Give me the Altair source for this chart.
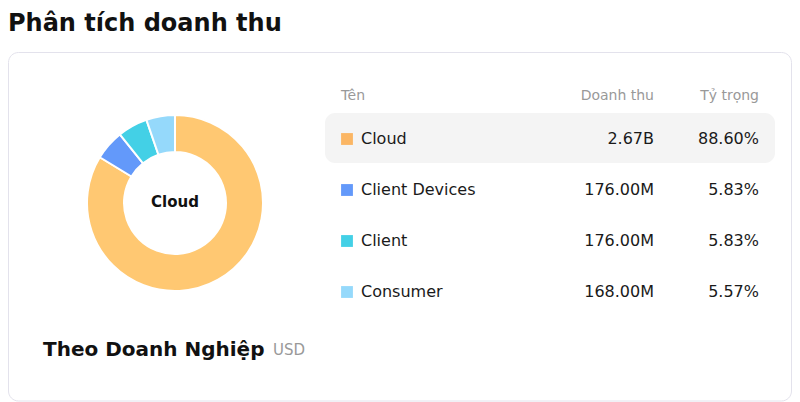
import altair as alt
import pandas as pd

# ---- data ----
names = ["Cloud", "Client Devices", "Client", "Consumer"]
revenue_m = [2670, 176, 176, 168]            # millions USD (used for donut angles)
revenue_label = ["2.67B", "176.00M", "176.00M", "168.00M"]
share_label = ["88.60%", "5.83%", "5.83%", "5.57%"]
pie_colors = ["#FFC872", "#6399FA", "#43D0E6", "#95D9FB"]
swatch_colors = ["#FBB664", "#6399FA", "#43D0E6", "#95D9FB"]
headers = ["Tên", "Doanh thu", "Tỷ trọng"]
title_text = "Phân tích doanh thu"
subtitle_text = "Theo Doanh Nghiệp"
unit_text = "USD"

FONT = "DejaVu Sans"

df = pd.DataFrame({
    "name": names,
    "revenue": revenue_m,
    "rev_label": revenue_label,
    "share_label": share_label,
    "idx": list(range(len(names))),
})
one = pd.DataFrame({"k": [0]})

row_y = alt.Y("name:N", scale=alt.Scale(type="point", domain=names, range=[131, 284], padding=0), axis=None)

card = alt.Chart(one).mark_rect(
    fill="white", stroke="#E3E2EC", strokeWidth=1, cornerRadius=10
).encode(x=alt.value(0.5), x2=alt.value(783.5), y=alt.value(44.5), y2=alt.value(393))

highlight = alt.Chart(one).mark_rect(fill="#F4F4F4", cornerRadius=10).encode(
    x=alt.value(317), x2=alt.value(767), y=alt.value(105), y2=alt.value(155)
)

donut = alt.Chart(df).mark_arc(
    radius=88, radius2=51, stroke="white", strokeWidth=2
).encode(
    theta=alt.Theta("revenue:Q", stack=True),
    order=alt.Order("idx:O"),
    color=alt.Color("name:N", scale=alt.Scale(domain=names, range=pie_colors), legend=None),
    x=alt.value(167), y=alt.value(195),
)

center_label = alt.Chart(df).transform_filter("datum.idx == 0").mark_text(
    font=FONT, fontSize=15, fontWeight="bold", color="#111111", align="center", baseline="middle"
).encode(text="name:N", x=alt.value(167), y=alt.value(194))

title = alt.Chart(one).mark_text(
    font=FONT, fontSize=24, fontWeight="bold", color="#111111", align="left", baseline="top"
).encode(text=alt.value(title_text), x=alt.value(0), y=alt.value(4))

subtitle = alt.Chart(one).mark_text(
    font=FONT, fontSize=20, fontWeight="bold", color="#111111", align="left", baseline="middle"
).encode(text=alt.value(subtitle_text), x=alt.value(35), y=alt.value(342))

unit = alt.Chart(one).mark_text(
    font=FONT, fontSize=15, color="#999999", align="left", baseline="middle"
).encode(text=alt.value(unit_text), x=alt.value(265), y=alt.value(342))

hdr_style = dict(font=FONT, fontSize=14, color="#999999", baseline="middle")
h1 = alt.Chart(one).mark_text(align="left", **hdr_style).encode(text=alt.value(headers[0]), x=alt.value(333), y=alt.value(88))
h2 = alt.Chart(one).mark_text(align="right", **hdr_style).encode(text=alt.value(headers[1]), x=alt.value(646), y=alt.value(88))
h3 = alt.Chart(one).mark_text(align="right", **hdr_style).encode(text=alt.value(headers[2]), x=alt.value(751), y=alt.value(88))

swatches = alt.Chart(df).mark_square(size=140, opacity=1).encode(
    x=alt.value(339),
    y=row_y,
    color=alt.Color("name:N", scale=alt.Scale(domain=names, range=swatch_colors), legend=None),
)

row_style = dict(font=FONT, fontSize=16, color="#1a1a1a", baseline="middle")
name_txt = alt.Chart(df).mark_text(align="left", **row_style).encode(x=alt.value(353), y=row_y, text="name:N")
rev_txt = alt.Chart(df).mark_text(align="right", **row_style).encode(x=alt.value(646), y=row_y, text="rev_label:N")
share_txt = alt.Chart(df).mark_text(align="right", **row_style).encode(x=alt.value(751), y=row_y, text="share_label:N")

chart = alt.layer(
    card, highlight, donut, center_label, title, subtitle, unit,
    h1, h2, h3, swatches, name_txt, rev_txt, share_txt
).resolve_scale(color="independent").properties(
    width=784, height=394, autosize=alt.AutoSizeParams(type="none"), padding=0
).configure_view(stroke=None)

chart.save("out.html", embed_options={"renderer": "svg", "actions": False})
